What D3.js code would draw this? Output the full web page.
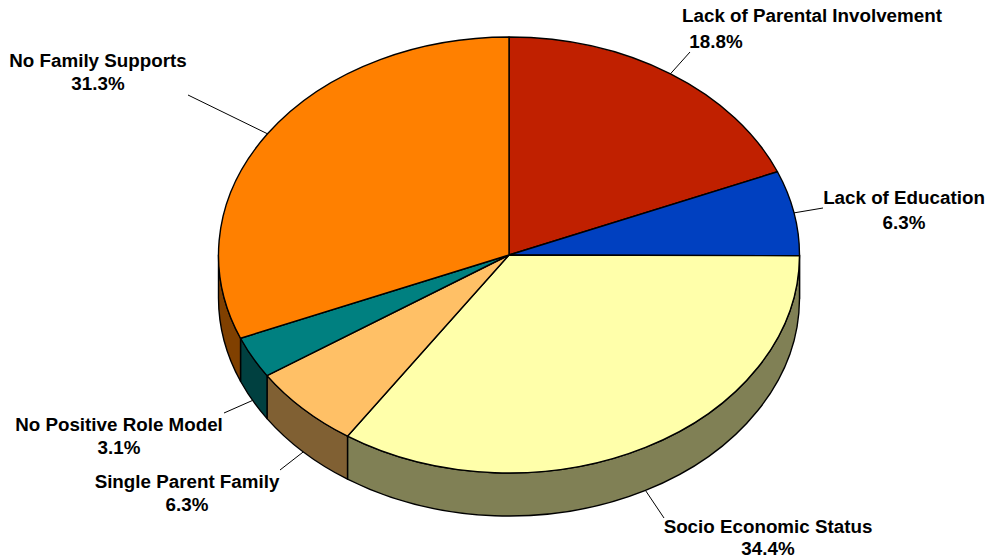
<!DOCTYPE html>
<html>
<head>
<meta charset="utf-8">
<script src="https://cdn.jsdelivr.net/npm/d3@7/dist/d3.min.js"></script>
<style>
html, body { margin: 0; padding: 0; background: #fff; }
text { font-family: "Liberation Sans", Arial, sans-serif; font-weight: bold; font-size: 18.8px; fill: #000; text-anchor: middle; }
</style>
</head>
<body>
<svg id="chart" width="989" height="560"></svg>
<script>
// Causes and their shares, clockwise from twelve o'clock
const categories = ["Lack of Parental Involvement", "Lack of Education", "Socio Economic Status",
  "Single Parent Family", "No Positive Role Model", "No Family Supports"];
const shares = [18.8, 6.3, 34.4, 6.3, 3.1, 31.3];
const topColors = ["#C02000", "#0040C0", "#FFFFAA", "#FFC066", "#008080", "#FF8000"];

// Label centre x and the baselines of its name and percentage lines
const labelX = [812, 904, 768, 187, 119, 98];
const nameY = [22, 204, 533, 488, 431, 67];
const pctY = [48, 229, 555, 511, 454, 90];
const pctX = [716, 904, 768, 187, 119, 98];
// Outer end of each leader line
const leaderEndX = [690, 823, 664, 280, 224, 188];
const leaderEndY = [52, 208, 518, 470, 413, 95];

const cx = 509, cy = 255, rx = 290.5, ry = 218, depth = 43;
const svg = d3.select("#chart");

const pie = d3.pie().sort(null).value(d => d);
const slices = pie(shares);

// Angle 0 is straight up; the disc is flattened by ry/rx
const px = a => cx + rx * Math.sin(a);
const py = a => cy - ry * Math.cos(a);

// Rim colour is the top colour at half brightness
const rimColor = c => {
  const { r, g, b } = d3.rgb(c);
  return d3.rgb(r / 2, g / 2, b / 2);
};

// Rim: only the part of each slice facing the viewer (90deg to 270deg)
const rimGroup = svg.append("g");
slices.forEach((s, i) => {
  const a0 = Math.max(s.startAngle, Math.PI / 2);
  const a1 = Math.min(s.endAngle, 3 * Math.PI / 2);
  if (a1 <= a0) return;
  const large = a1 - a0 > Math.PI ? 1 : 0;
  const top = `M${px(a0)},${py(a0)}A${rx},${ry} 0 ${large} 1 ${px(a1)},${py(a1)}`;
  const bottom = `L${px(a1)},${py(a1) + depth}A${rx},${ry} 0 ${large} 0 ${px(a0)},${py(a0) + depth}Z`;
  rimGroup.append("path")
    .attr("d", top + bottom)
    .attr("fill", rimColor(topColors[i]))
    .attr("stroke", "#000")
    .attr("stroke-width", 1.4)
    .attr("stroke-linejoin", "round");
});

// Top face: a circular pie squashed vertically
const arc = d3.arc().innerRadius(0).outerRadius(rx);
svg.append("g")
  .attr("transform", `translate(${cx},${cy}) scale(1,${ry / rx})`)
  .selectAll("path")
  .data(slices)
  .join("path")
  .attr("d", arc)
  .attr("fill", (d, i) => topColors[i])
  .attr("stroke", "#000")
  .attr("stroke-width", 1.4)
  .attr("stroke-linejoin", "round")
  .attr("vector-effect", "non-scaling-stroke");

// Leader lines start on the outer edge at each slice's mid-angle
svg.append("g")
  .selectAll("line")
  .data(slices)
  .join("line")
  .each(function (s, i) {
    const mid = (s.startAngle + s.endAngle) / 2;
    const front = Math.cos(mid) < 0;
    d3.select(this)
      .attr("x1", px(mid))
      .attr("y1", py(mid) + (front ? depth : 0))
      .attr("x2", leaderEndX[i])
      .attr("y2", leaderEndY[i]);
  })
  .attr("stroke", "#000")
  .attr("stroke-width", 1);

// Labels: category name with its percentage underneath
const labels = svg.append("g");
categories.forEach((name, i) => {
  labels.append("text").attr("x", labelX[i]).attr("y", nameY[i]).text(name);
  labels.append("text").attr("x", pctX[i]).attr("y", pctY[i]).text(d3.format(".1f")(shares[i]) + "%");
});
</script>
</body>
</html>
